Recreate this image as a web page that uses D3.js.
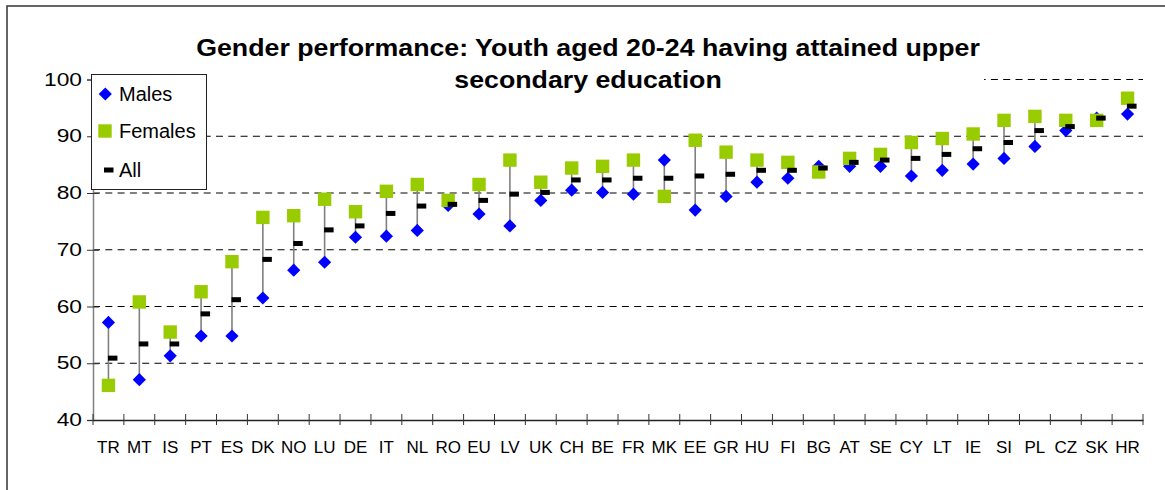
<!DOCTYPE html>
<html>
<head>
<meta charset="utf-8">
<script src="https://cdn.jsdelivr.net/npm/d3@7/dist/d3.min.js"></script>
<style>
  html, body { margin: 0; padding: 0; background: #fff; }
  svg { display: block; }
  text { font-family: "Liberation Sans", Arial, sans-serif; }
</style>
</head>
<body>
<svg id="chart" width="1165" height="490"></svg>
<script>
const categories = ["TR","MT","IS","PT","ES","DK","NO","LU","DE","IT","NL","RO","EU","LV","UK","CH","BE","FR","MK","EE","GR","HU","FI","BG","AT","SE","CY","LT","IE","SI","PL","CZ","SK","HR"];
const males   = [57.2,47.1,51.3,54.8,54.8,61.5,66.4,67.8,72.2,72.4,73.4,77.8,76.3,74.2,78.7,80.5,80.1,79.8,85.8,77.0,79.4,81.9,82.6,84.7,84.7,84.7,83.0,84.0,85.1,86.1,88.2,91.0,93.2,93.9];
const females = [46.1,60.8,55.5,62.6,67.9,75.7,76.0,78.9,76.7,80.3,81.5,78.7,81.5,85.8,81.9,84.4,84.7,85.8,79.4,89.3,87.2,85.8,85.4,83.7,86.1,86.8,88.9,89.6,90.4,92.8,93.5,92.8,92.8,96.7];
const all     = [50.9,53.4,53.4,58.7,61.2,68.3,71.1,73.5,74.2,76.4,77.7,78.0,78.7,79.8,80.1,82.3,82.3,82.6,82.6,83.0,83.3,84.0,84.0,84.4,85.4,85.8,86.1,86.8,87.8,88.9,91.0,91.7,93.2,95.3];
const yTicks = [40,50,60,70,80,90,100];
const titleLines = ["Gender performance: Youth aged 20-24 having attained upper", "secondary education"];
const legendItems = ["Males","Females","All"];

const svg = d3.select("#chart");
const x = d3.scaleBand().domain(categories).range([93, 1143]);
const y = d3.scaleLinear().domain([40, 100]).range([420, 79.5]);
const cx = d => x(d) + x.bandwidth() / 2;

// outer frame
svg.append("path").attr("d", "M7,490 L7,6 L1165,6").attr("fill", "none").attr("stroke", "#333").attr("stroke-width", 1.5);

// gridlines
svg.append("g").selectAll("line").data(yTicks.filter(v => v > 40)).join("line")
  .attr("x1", 93).attr("x2", 1143).attr("y1", d => y(d)).attr("y2", d => y(d))
  .attr("stroke", "#000").attr("stroke-width", 1).attr("stroke-dasharray", "7,5.3");

// y axis
const ySx = 1.3;
const ya = svg.append("g").attr("transform", "translate(93,0)")
  .call(d3.axisLeft(y).tickValues(yTicks).tickSize(6).tickPadding(8).tickFormat(d3.format("d")));
ya.select(".domain").attr("stroke", "#808080").attr("stroke-width", 1.5);
ya.selectAll(".tick line").attr("x1", -6).attr("x2", 6).attr("stroke", "#333");
ya.selectAll(".tick text").attr("x", -11 / ySx).attr("transform", `scale(${ySx},1)`)
  .attr("font-size", 17.5).attr("font-family", "Liberation Sans, Arial, sans-serif").attr("fill", "#000");

// x axis
const xa = svg.append("g").attr("transform", "translate(0,420)")
  .call(d3.axisBottom(x).tickSize(0).tickPadding(0));
xa.select(".domain").attr("stroke", "#222").attr("stroke-width", 1.5);
xa.selectAll(".tick text").attr("y", 33).attr("dy", 0).attr("font-size", 17).attr("font-family", "Liberation Sans, Arial, sans-serif").attr("fill", "#000");
// boundary ticks
const bounds = categories.map(c => x(c)).concat([x.range()[1]]);
svg.append("g").selectAll("line").data(bounds).join("line")
  .attr("x1", d => d).attr("x2", d => d).attr("y1", 414).attr("y2", 425)
  .attr("stroke", "#333").attr("stroke-width", 1);

// connecting lines
svg.append("g").selectAll("line").data(categories).join("line")
  .attr("x1", d => cx(d)).attr("x2", d => cx(d))
  .attr("y1", (d, i) => y(males[i])).attr("y2", (d, i) => y(females[i]))
  .attr("stroke", "#808080").attr("stroke-width", 1.6);

// males diamonds
const diamond = (px, py, r) => `M${px},${py - r}L${px + r},${py}L${px},${py + r}L${px - r},${py}Z`;
svg.append("g").selectAll("path").data(categories).join("path")
  .attr("d", (d, i) => diamond(cx(d), y(males[i]), 6.6))
  .attr("fill", "#0000FF");

// females squares
svg.append("g").selectAll("rect").data(categories).join("rect")
  .attr("x", d => cx(d) - 6.7).attr("y", (d, i) => y(females[i]) - 6.7)
  .attr("width", 13.4).attr("height", 13.4).attr("fill", "#99CC00");

// all dashes
svg.append("g").selectAll("rect").data(categories).join("rect")
  .attr("x", d => cx(d) - 0.5).attr("y", (d, i) => y(all[i]) - 2.5)
  .attr("width", 9.5).attr("height", 5).attr("fill", "#000");

// title box
svg.append("rect").attr("x", 192).attr("y", 28).attr("width", 792).attr("height", 72).attr("fill", "#fff");
svg.append("g").selectAll("text").data(titleLines).join("text")
  .attr("transform", (d, i) => `translate(588,${56 + i * 32}) scale(1.163,1)`)
  .attr("text-anchor", "middle").attr("font-weight", "bold").attr("font-size", 23)
  .attr("fill", "#000").text(d => d);

// legend
const lg = svg.append("g");
lg.append("rect").attr("x", 91.5).attr("y", 74.5).attr("width", 115).attr("height", 115)
  .attr("fill", "#fff").attr("stroke", "#222").attr("stroke-width", 1);
const ly = [94, 131, 170];
lg.append("path").attr("d", diamond(105.3, ly[0], 6.6)).attr("fill", "#0000FF");
lg.append("rect").attr("x", 98.3).attr("y", ly[1] - 6.7).attr("width", 13.4).attr("height", 13.4).attr("fill", "#99CC00");
lg.append("rect").attr("x", 104).attr("y", ly[2] - 2.5).attr("width", 9.5).attr("height", 5).attr("fill", "#000");
lg.selectAll("text").data(legendItems).join("text")
  .attr("x", 119).attr("y", (d, i) => ly[i] + 7)
  .attr("font-size", 20).attr("fill", "#000").text(d => d);
</script>
</body>
</html>
